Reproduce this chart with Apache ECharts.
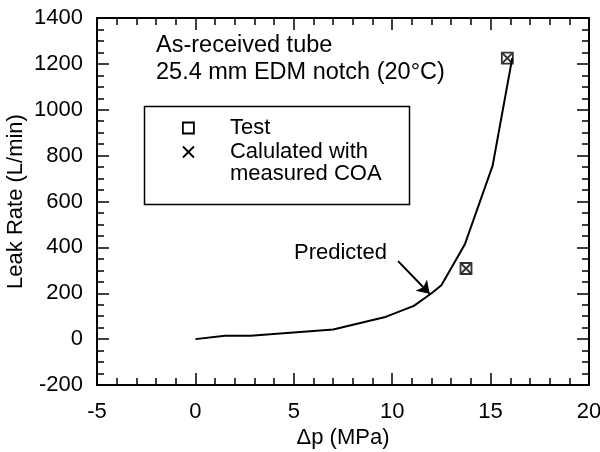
<!DOCTYPE html>
<html>
<head>
<meta charset="utf-8">
<script src="https://cdn.jsdelivr.net/npm/echarts@6/dist/echarts.min.js"></script>
<style>
  html, body { margin: 0; padding: 0; background: #fff; }
  #main { width: 600px; height: 452px; }
</style>
</head>
<body>
<div id="main"></div>
<script>
// predicted leak rate curve (dp in MPa, leak rate in L/min)
const predictedDp = [0, 1.5, 2.8, 7.0, 9.6, 11.1, 12.0, 12.5, 13.7, 15.1, 16.1]
const predictedRate = [0, 15, 15, 42, 95, 145, 200, 235, 415, 755, 1225]
// test points
const testDp = [13.75, 15.85]
const testRate = [308, 1225]
// calculated with measured COA
const calcDp = [13.75, 15.85]
const calcRate = [308, 1225]

const font = 'Liberation Sans, Arial, Helvetica, sans-serif'
const zip = (xs, ys) => xs.map((x, i) => [x, ys[i]])

const chart = echarts.init(document.getElementById('main'))
const crossPath = 'path://M0,0L10,10M10,0L0,10'

const axisLine = { onZero: false, lineStyle: { color: '#000', width: 2 } }
const axisTick = { inside: true, length: 12, lineStyle: { color: '#000', width: 1.5 } }
const minorTick = (n) => ({ show: true, splitNumber: n, length: 7, lineStyle: { color: '#000', width: 1.5 } })
const labelStyle = { fontFamily: font, fontSize: 22, color: '#000' }

chart.setOption({
  animation: false,
  textStyle: { fontFamily: font },
  grid: { left: 97, right: 11, top: 18, bottom: 67, outerBoundsMode: 'none', containLabel: false },
  legend: {
    orient: 'vertical',
    left: 177,
    top: 112,
    itemWidth: 11,
    itemHeight: 11,
    itemGap: 2,
    data: ['Test', 'Calulated with'],
    itemStyle: { borderColor: '#000', borderWidth: 1.8, opacity: 1 },
    textStyle: { fontFamily: font, fontSize: 22, color: '#000', padding: [0, 0, 0, 31] }
  },
  xAxis: [
    {
      type: 'value', min: -5, max: 20, interval: 5, position: 'bottom',
      axisLine, axisTick, minorTick: minorTick(5), splitLine: { show: false },
      name: 'Δp (MPa)', nameLocation: 'middle', nameGap: 42, nameMoveOverlap: false,
      nameTextStyle: labelStyle,
      axisLabel: Object.assign({ margin: 16 }, labelStyle)
    },
    {
      type: 'value', min: -5, max: 20, interval: 5, position: 'top',
      axisLine, axisTick, minorTick: minorTick(5), splitLine: { show: false },
      axisLabel: { show: false }
    }
  ],
  yAxis: [
    {
      type: 'value', min: -200, max: 1400, interval: 200, position: 'left',
      axisLine, axisTick, minorTick: minorTick(4), splitLine: { show: false },
      name: 'Leak Rate (L/min)', nameLocation: 'middle', nameGap: 70, nameRotate: 90,
      nameMoveOverlap: false,
      nameTextStyle: labelStyle,
      axisLabel: Object.assign({ margin: 14, formatter: (v) => String(v) }, labelStyle)
    },
    {
      type: 'value', min: -200, max: 1400, interval: 200, position: 'right',
      axisLine, axisTick, minorTick: minorTick(4), splitLine: { show: false },
      axisLabel: { show: false }
    }
  ],
  series: [
    {
      name: 'Predicted',
      type: 'line',
      data: zip(predictedDp, predictedRate),
      showSymbol: false,
      lineStyle: { color: '#000', width: 2 },
      markLine: {
        silent: true,
        symbol: ['none', 'arrow'],
        symbolSize: 12,
        label: { show: false },
        lineStyle: { color: '#000', width: 2, type: 'solid' },
        data: [[{ coord: [10.3, 340] }, { coord: [11.9, 198] }]]
      }
    },
    {
      name: 'Test',
      type: 'scatter',
      data: zip(testDp, testRate),
      symbol: 'rect',
      symbolSize: 11,
      itemStyle: { color: 'rgba(0,0,0,0)', borderColor: '#000', borderWidth: 1.8 }
    },
    {
      name: 'Calulated with',
      type: 'scatter',
      data: zip(calcDp, calcRate),
      symbol: crossPath,
      symbolSize: 9,
      itemStyle: { color: 'rgba(0,0,0,0)', borderColor: '#000', borderWidth: 2 }
    }
  ],
  graphic: [
    {
      type: 'rect', left: 142, top: 104, silent: true,
      shape: { width: 265, height: 98 },
      style: { fill: 'none', stroke: '#000', lineWidth: 1.5 }
    },
    {
      type: 'text', left: 230, top: 163,
      style: { text: 'measured COA', font: '22px ' + font, fill: '#000' }
    },
    {
      type: 'text', left: 156, top: 32,
      style: { text: 'As-received tube\n25.4 mm EDM notch (20°C)', font: '23.5px ' + font, fill: '#000', lineHeight: 27 }
    },
    {
      type: 'text', left: 294, top: 242,
      style: { text: 'Predicted', font: '22px ' + font, fill: '#000' }
    }
  ]
})
</script>
</body>
</html>
